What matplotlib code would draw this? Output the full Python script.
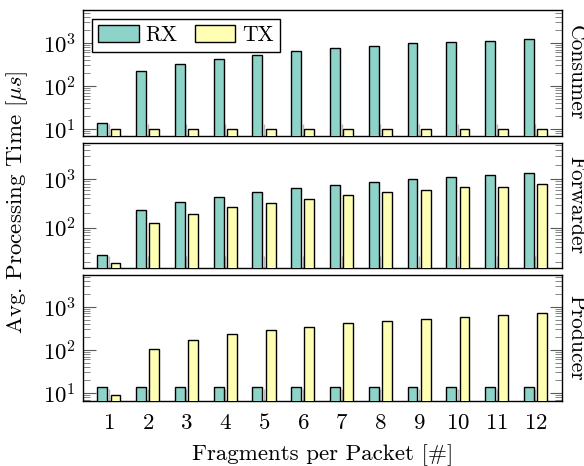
import matplotlib
matplotlib.use('Agg')
from matplotlib import pyplot as plt
from matplotlib.ticker import LogLocator, NullFormatter
import numpy as np

plt.rcParams['font.family'] = 'serif'
plt.rcParams['font.serif'] = ['cmr10', 'DejaVu Serif']
plt.rcParams['mathtext.fontset'] = 'cm'
plt.rcParams['axes.formatter.use_mathtext'] = True
plt.rcParams['axes.unicode_minus'] = False

# fragments per packet
fragments = np.arange(1, 13)

# consumer
cons_rx = [14, 218, 318, 420, 520, 640, 740, 850, 970, 1070, 1090, 1220]
cons_tx = [10, 10, 10, 10, 10, 10, 10, 10, 10, 10, 10, 10]
# forwarder
fwd_rx = [27, 229, 336, 438, 549, 655, 775, 890, 1000, 1117, 1230, 1325]
fwd_tx = [18.6, 127, 192, 265, 330, 398, 468, 540, 603, 677, 685, 790]
# producer
prod_rx = [14, 14, 14, 14, 14, 14, 14, 14, 14, 14, 14, 14]
prod_tx = [9, 105, 167, 228, 288, 345, 412, 473, 525, 585, 648, 708]

panels = [('Consumer', cons_rx, cons_tx, (7, 5700)),
          ('Forwarder', fwd_rx, fwd_tx, (14.7, 5600)),
          ('Producer', prod_rx, prod_tx, (6.6, 5400))]

rx_color = '#8dd3c7'
tx_color = '#ffffb3'
w = 0.255
off = 0.17
fs = 16.5

fig, axes = plt.subplots(3, 1, figsize=(5.84, 4.66), dpi=100, sharex=True)
fig.subplots_adjust(left=0.142, right=0.962, top=0.978, bottom=0.14, hspace=0.056)

for ax, (name, rx, tx, lim) in zip(axes, panels):
    ax.bar(fragments - off, rx, w, color=rx_color, edgecolor='k', linewidth=1.0,
           label='RX', zorder=3)
    ax.bar(fragments + off, tx, w, color=tx_color, edgecolor='k', linewidth=1.0,
           label='TX', zorder=3)
    ax.set_yscale('log')
    ax.set_ylim(*lim)
    ax.set_xlim(0.33, 12.68)
    ax.yaxis.set_major_locator(LogLocator(base=10, numticks=10))
    ax.yaxis.set_minor_locator(LogLocator(base=10, subs=np.arange(2, 10), numticks=10))
    ax.yaxis.set_minor_formatter(NullFormatter())
    ax.tick_params(axis='y', which='major', direction='in', length=9, width=0.8,
                   color='0.35', left=True, right=True, labelsize=fs, pad=5)
    ax.tick_params(axis='y', which='minor', direction='in', length=5, width=0.6,
                   color='0.45', left=True, right=True)
    ax.tick_params(axis='x', which='major', direction='in', length=9, width=1.0,
                   color='0.72', labelsize=fs, pad=9)
    ax.tick_params(axis='x', which='minor', bottom=False)
    for s in ax.spines.values():
        s.set_linewidth(1.0)
    # side label, kept inside the canvas
    ax.annotate(name, xy=(1, 0.5), xycoords='axes fraction',
                xytext=(3, 0), textcoords='offset points', rotation=-90,
                ha='left', va='center', fontsize=15.5)

axes[-1].set_xticks(fragments)
axes[-1].set_xlabel('Fragments per Packet [#]', fontsize=fs, labelpad=8)

axes[0].legend(loc='upper left', ncol=2, fontsize=fs - 1, frameon=True, fancybox=False,
               edgecolor='k', handlelength=1.9, handleheight=0.85, columnspacing=0.8,
               borderaxespad=0.4, handletextpad=0.3, borderpad=0.3, framealpha=1)

fig.text(0.03, 0.567, r'Avg. Processing Time [$\mu s$]', rotation=90,
         ha='center', va='center', fontsize=fs)

plt.savefig('out.png', dpi=100)
